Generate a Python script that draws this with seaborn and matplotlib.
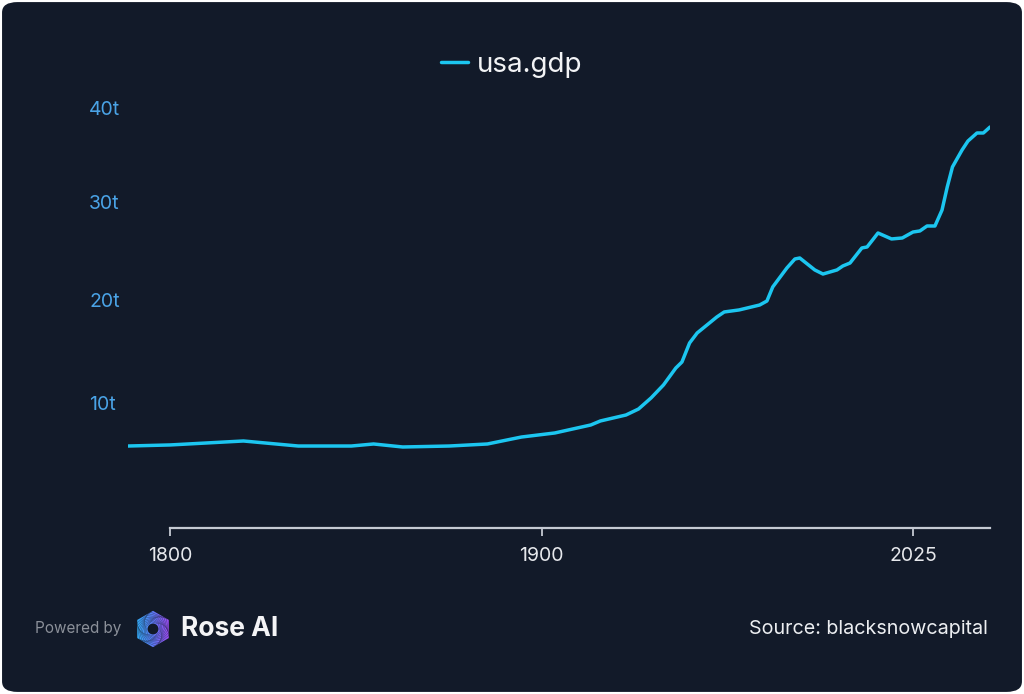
import numpy as np
import pandas as pd
import seaborn as sns
import matplotlib.pyplot as plt
from matplotlib.patches import FancyBboxPatch, Polygon, Circle
from matplotlib.colors import LinearSegmentedColormap

# data (trillions)
years = [1790, 1800, 1818, 1832, 1846, 1852, 1860, 1873, 1884, 1894,
         1904, 1915, 1918, 1926, 1930, 1934, 1938, 1942, 1944, 1946.5,
         1949, 1955.5, 1958, 1963, 1970, 1972.5, 1974.5, 1979.4, 1982.2, 1983.9,
         1989.2, 1992.1, 1997.1, 1999.2, 2001.8, 2006.1, 2008, 2010, 2012, 2017,
         2021, 2025, 2027.6, 2030.3, 2033.3, 2036, 2038, 2040, 2043.7, 2046,
         2049.5, 2052, 2054.6]
gdp = [5.95, 6.05, 6.42, 5.95, 5.95, 6.14, 5.86, 5.95, 6.14, 6.79,
       7.17, 7.92, 8.30, 8.86, 9.43, 10.48, 11.72, 13.35, 13.93, 15.78,
       16.76, 18.33, 18.83, 19.03, 19.52, 19.92, 21.32, 23.23, 24.14, 24.24,
       23.03, 22.62, 23.03, 23.43, 23.73, 25.26, 25.36, 26.07, 26.79, 26.18,
       26.28, 26.89, 27.0, 27.51, 27.51, 29.16, 31.56, 33.67, 35.47, 36.43,
       37.29, 37.29, 37.93]
x_ticks = [1800, 1900, 2025]
y_ticks = [10, 20, 30, 40]

df = pd.DataFrame({"year": years, "usa.gdp": gdp})

bg = "#121a29"
sns.set_theme(style="dark")
plt.rcParams["font.family"] = ["Inter", "DejaVu Sans"]

fig = plt.figure(figsize=(10.24, 6.94), dpi=100)
fig.patch.set_facecolor("white")
fig.patches.append(FancyBboxPatch((0.002, 0.003), 0.996, 0.994,
                                  boxstyle="round,pad=0,rounding_size=0.015",
                                  transform=fig.transFigure, facecolor=bg,
                                  edgecolor="none", zorder=-5))

ax = fig.add_axes([128 / 1024, 1 - 528 / 694, (990 - 128) / 1024, (528 - 98.7) / 694])
ax.set_facecolor("none")

sns.lineplot(data=df, x="year", y="usa.gdp", ax=ax, color="#1cc6f0",
             linewidth=2.5, estimator=None, label="usa.gdp")

# log-with-offset scales on both axes (matches the tick spacing of the reference)
ax.set_xscale("function", functions=(lambda v: np.log(v - 1400), lambda u: np.exp(u) + 1400))
ax.set_yscale("function", functions=(lambda v: np.log(v + 200), lambda u: np.exp(u) - 200))
ax.set_xlim(1790, 2054.6)
ax.set_ylim(-1.55, 41)

ax.set_xticks(x_ticks)
ax.set_xticklabels([str(t) for t in x_ticks])
ax.set_yticks(y_ticks)
ax.set_yticklabels([f"{t}t" for t in y_ticks], ha="left")
ax.minorticks_off()
ax.set_xlabel("")
ax.set_ylabel("")
ax.grid(False)

for s in ["left", "right", "top"]:
    ax.spines[s].set_visible(False)
ax.spines["bottom"].set_color("#c5cad3")
ax.spines["bottom"].set_linewidth(1.6)
ax.spines["bottom"].set_bounds(1800, 2054.6)
ax.tick_params(axis="x", colors="#c5cad3", length=6, width=1.3, pad=8,
               labelsize=14, labelcolor="#e6e8ec", bottom=True)
ax.tick_params(axis="y", length=0, pad=28, labelsize=14, labelcolor="#4aa3e6")

leg = ax.legend(loc="center", bbox_to_anchor=(512 / 1024, 1 - 65 / 694),
                bbox_transform=fig.transFigure, frameon=False,
                fontsize=20, handlelength=0.95, handletextpad=0.35)
for t in leg.get_texts():
    t.set_color("#f2f3f5")
for h in leg.get_lines():
    h.set_linewidth(2.5)

# footer
fig.text(35 / 1024, 1 - 629 / 694, "Powered by", color="#8b9099", fontsize=11,
         va="center", ha="left")
fig.text(181 / 1024, 1 - 629 / 694, "Rose AI", color="#f4f4f6", fontsize=19,
         fontweight="bold", va="center", ha="left")
fig.text(988 / 1024, 1 - 629 / 694, "Source: blacksnowcapital", color="#eceef1",
         fontsize=14.2, va="center", ha="right")

# logo
lax = fig.add_axes([133 / 1024, 1 - 651 / 694, 40 / 1024, 44 / 694])
lax.set_xlim(-1.1, 1.1)
lax.set_ylim(-1.1, 1.1)
lax.set_aspect("equal")
lax.axis("off")
ang = np.deg2rad(np.arange(6) * 60 + 90)
hexpts = np.c_[np.cos(ang), np.sin(ang)]
cmap = LinearSegmentedColormap.from_list("rose", ["#2fb0f6", "#5f78f4", "#a844f2"])
grad = np.tile(np.linspace(0, 1, 100), (100, 1))
im = lax.imshow(grad, cmap=cmap, extent=(-1, 1, -1, 1), origin="lower")
clip = Polygon(hexpts, closed=True, transform=lax.transData, facecolor="none", edgecolor="none")
lax.add_patch(clip)
im.set_clip_path(clip)
for i in range(1, 10):
    sc = 1 - i * 0.065
    rot = np.deg2rad(i * 8)
    a2 = ang + rot
    pts = np.c_[np.cos(a2), np.sin(a2)] * sc
    lax.add_patch(Polygon(pts, closed=True, facecolor="none", edgecolor=bg,
                          linewidth=0.35, alpha=0.55))
lax.add_patch(Circle((0, 0), 0.3, facecolor=bg, edgecolor="none"))

fig.savefig("out.png", dpi=100, facecolor=fig.get_facecolor())
